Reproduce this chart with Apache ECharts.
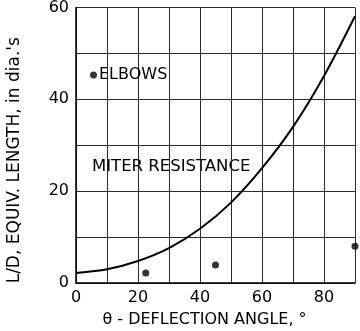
<!DOCTYPE html>
<html>
<head>
<meta charset="utf-8">
<script src="https://cdn.jsdelivr.net/npm/echarts@6/dist/echarts.min.js"></script>
<style>
html,body{margin:0;padding:0;background:#fff;}
#c{width:360px;height:331px;}
</style>
</head>
<body>
<div id="c"></div>
<script>
var angles = [0, 10, 20, 30, 40, 50, 60, 70, 80, 90];
var miterResistance = [2.2, 3.0, 4.8, 7.6, 11.8, 17.5, 25.0, 34.0, 45.1, 58.1];
var elbowAngles = [22.5, 45, 90];
var elbowValues = [2.2, 3.9, 8.0];
var xTickLabels = ['0', '20', '40', '60', '80'];
var yTickLabels = ['0', '20', '40', '60'];

var FONT = 'DejaVu Sans';
var chart = echarts.init(document.getElementById('c'), null, {renderer: 'canvas'});
chart.setOption({
  backgroundColor: '#ffffff',
  animation: false,
  textStyle: {fontFamily: FONT, color: '#000'},
  grid: {left: 76, right: 5, top: 7.5, bottom: 48, containLabel: false, outerBoundsMode: 'none'},
  legend: {
    data: [{name: 'ELBOWS', icon: 'circle'}],
    left: 85, top: 62,
    itemWidth: 7, itemHeight: 7, itemGap: 0,
    textStyle: {fontFamily: FONT, fontSize: 16, color: '#000', padding: [0, 0, 0, -3]}
  },
  xAxis: {
    type: 'value', min: 0, max: 90, interval: 10,
    name: 'θ - DEFLECTION ANGLE, °',
    nameLocation: 'middle', nameGap: 29,
    nameTextStyle: {fontFamily: FONT, fontSize: 16, color: '#000', padding: [0, 22, 0, 0]},
    axisLine: {show: true, lineStyle: {color: '#000', width: 1.5}},
    axisTick: {show: false},
    splitLine: {show: true, lineStyle: {color: '#2a2a2a', width: 1}},
    axisLabel: {
      fontFamily: FONT, fontSize: 16, color: '#000', margin: 7,
      formatter: function (v) { var s = String(v); return xTickLabels.indexOf(s) >= 0 ? s : ''; }
    }
  },
  yAxis: {
    type: 'value', min: 0, max: 60, interval: 10,
    name: "L/D, EQUIV. LENGTH, in dia.'s",
    nameLocation: 'middle', nameGap: 53,
    nameTextStyle: {fontFamily: FONT, fontSize: 17, color: '#000', padding: [0, 30, 0, 0]},
    axisLine: {show: true, lineStyle: {color: '#000', width: 1.5}},
    axisTick: {show: false},
    splitLine: {show: true, lineStyle: {color: '#2a2a2a', width: 1}},
    axisLabel: {
      fontFamily: FONT, fontSize: 16, color: '#000', margin: 7,
      formatter: function (v) { var s = String(v); return yTickLabels.indexOf(s) >= 0 ? s : ''; }
    }
  },
  series: [
    {
      name: 'MITER RESISTANCE',
      type: 'line',
      smooth: 0.3,
      showSymbol: false,
      data: angles.map(function (a, i) { return [a, miterResistance[i]]; }),
      lineStyle: {color: '#000', width: 2},
      z: 5
    },
    {
      name: 'ELBOWS',
      type: 'scatter',
      symbol: 'circle',
      symbolSize: 7,
      itemStyle: {color: '#000'},
      data: elbowAngles.map(function (a, i) { return [a, elbowValues[i]]; }),
      clip: false,
      z: 6
    }
  ],
  graphic: [
    {
      type: 'text', left: 92, top: 158,
      style: {text: 'MITER RESISTANCE', fontFamily: FONT, fontSize: 16.5, fill: '#000'}
    }
  ]
});
</script>
</body>
</html>
